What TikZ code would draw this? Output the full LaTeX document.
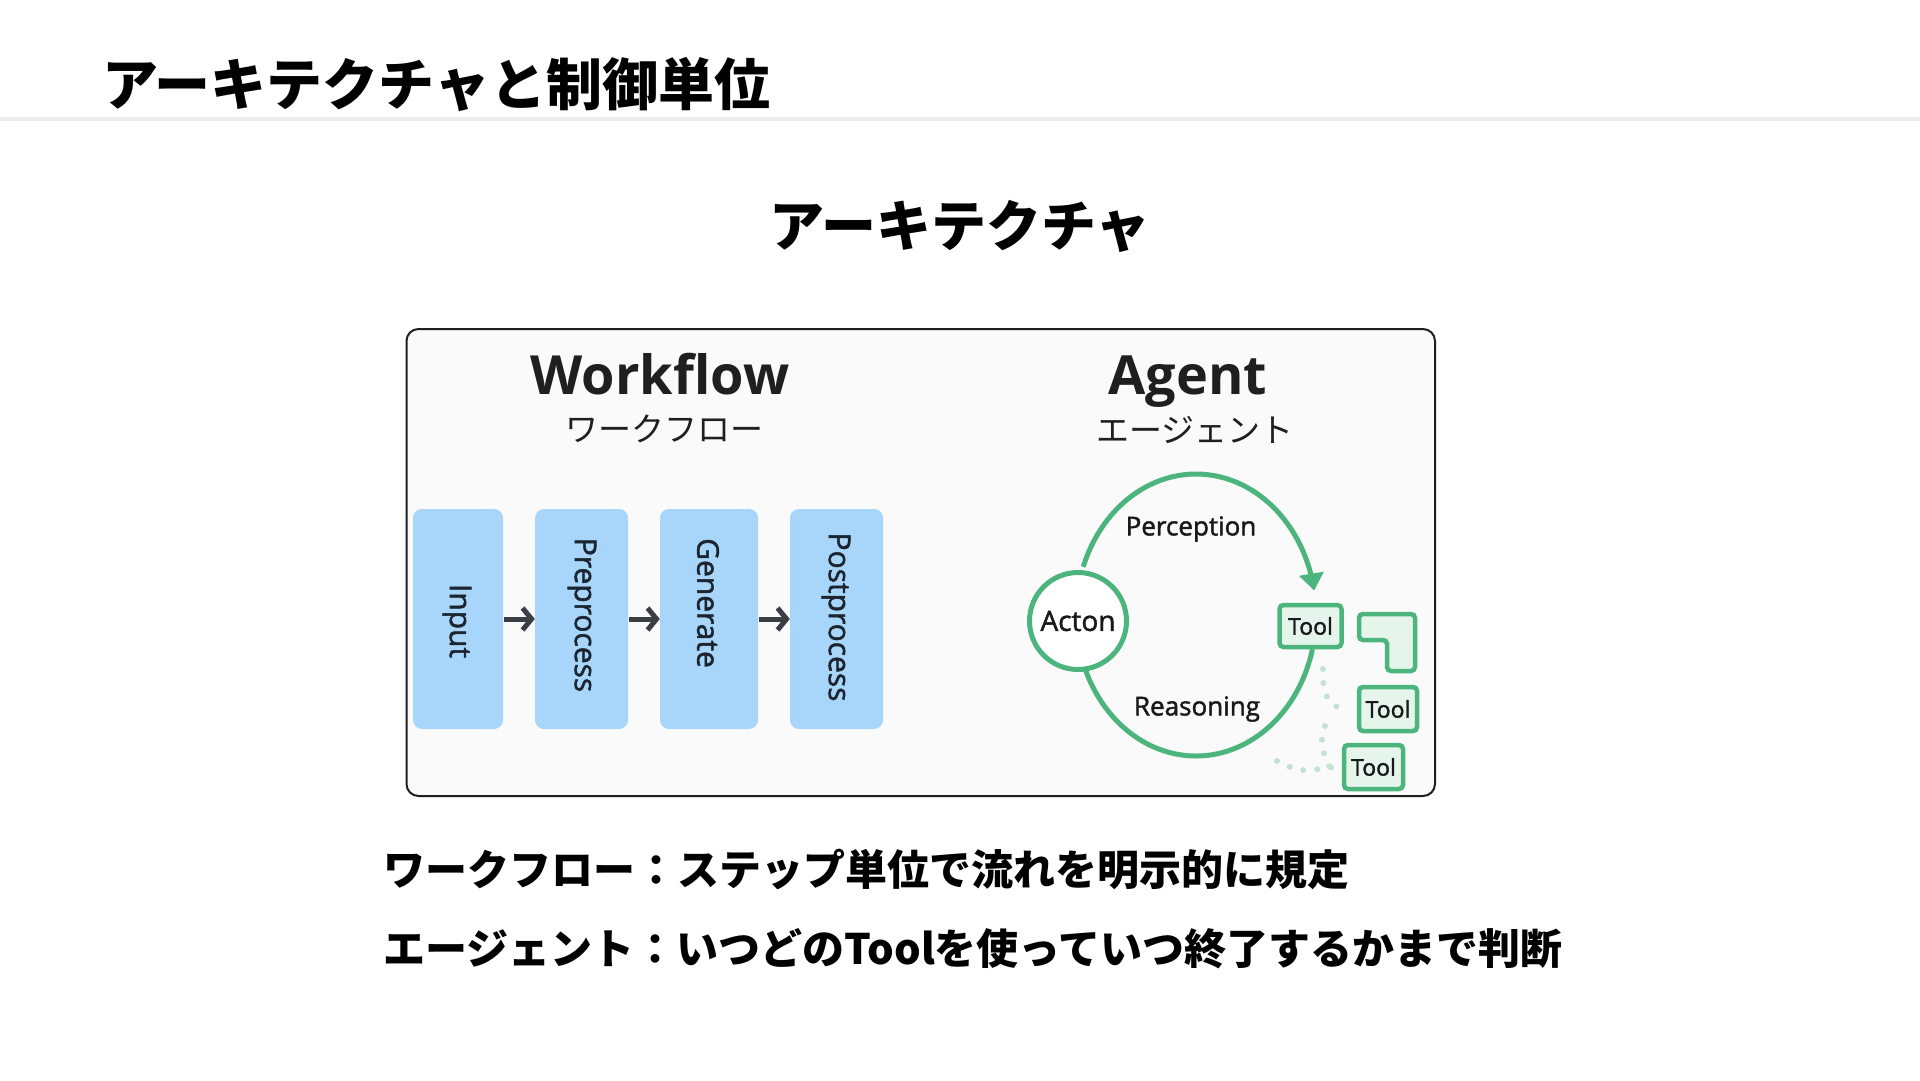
\documentclass[tikz,border=0pt]{standalone}
\usepackage{fontspec}
\setmainfont{Open Sans}
\newfontfamily\medfont{Open Sans}[FakeBold=1.6]
\newfontfamily\jp{Noto Sans CJK JP}
\usetikzlibrary{arrows.meta}
\definecolor{grn}{HTML}{4CB57D}
\definecolor{grnfill}{HTML}{E6F5EC}
\definecolor{grndot}{HTML}{C2E4CF}
\definecolor{blu}{HTML}{A8D6FA}
\definecolor{ink}{HTML}{1C2430}
\definecolor{arr}{HTML}{3B3F45}
\definecolor{framefill}{HTML}{FAFAFA}
\definecolor{divider}{HTML}{EDEDED}
\begin{document}
\begin{tikzpicture}[x=1pt,y=-1pt,
  frame/.style={draw=black!88, line width=2pt, fill=framefill, rounded corners=12pt, inner sep=0pt},
  wfbox/.style={fill=blu, rounded corners=9pt, minimum height=220pt, inner sep=0pt},
  wftext/.style={rotate=-90, text=ink, font=\medfont\fontsize{30}{30}\selectfont, inner sep=0pt},
  wfarrow/.style={draw=arr, line width=5pt, -{Straight Barb[length=9pt,width=22pt,line width=5pt]}, shorten <=1pt},
  ring/.style={draw=grn, line width=5pt},
  toolbox/.style={draw=grn, line width=4.5pt, fill=grnfill, rounded corners=4pt, inner sep=0pt, font=\medfont\fontsize{23}{23}\selectfont, text=black!90},
  dotline/.style={draw=grndot, line width=6pt, line cap=round, dash pattern=on 0pt off 14pt},
  lbl/.style={inner sep=0pt, text=black!90, font=\medfont\fontsize{26}{26}\selectfont},
]
\useasboundingbox (0,0) rectangle (1920,1080);
\fill[white] (0,0) rectangle (1920,1080);

% header
\node[anchor=west, inner sep=0pt, font=\jp\bfseries\fontsize{56}{60}\selectfont] (title) at (102,84) {アーキテクチャと制御単位};
\draw[divider, line width=4pt] (0,119) -- (1920,119);

\node[inner sep=0pt, font=\jp\bfseries\fontsize{55}{60}\selectfont] (subtitle) at (960,226) {アーキテクチャ};

% frame
\node[frame, minimum width=1028.5pt, minimum height=467pt] (frame) at (920.75,562.5) {};

% headings
\node[anchor=base, inner sep=0pt, text=black!88, font=\bfseries\fontsize{54}{60}\selectfont] (wfhead) at (660,394) {Workflow};
\node[inner sep=0pt, text=black!88, font=\jp\fontsize{33}{33}\selectfont] (wfjp) at (664,429) {ワークフロー};
\node[anchor=base, inner sep=0pt, text=black!88, font=\bfseries\fontsize{54}{60}\selectfont] (aghead) at (1188,394) {Agent};
\node[inner sep=0pt, text=black!88, font=\jp\fontsize{33}{33}\selectfont] (agjp) at (1195,430) {エージェント};

% workflow boxes
\node[wfbox, minimum width=90pt] (input) at (458,619) {};
\node[wfbox, minimum width=93pt] (prep) at (581.5,619) {};
\node[wfbox, minimum width=98pt] (gen) at (709,619) {};
\node[wfbox, minimum width=93pt] (post) at (836.5,619) {};
\node[wftext] (inputt) at (457,621) {Input};
\node[wftext] (prept) at (582,615) {Preprocess};
\node[wftext] (gent) at (708,603) {Generate};
\node[wftext] (postt) at (836,617) {Postprocess};
\draw[wfarrow] (input.east) -- (prep.west);
\draw[wfarrow] (prep.east) -- (gen.west);
\draw[wfarrow] (gen.east) -- (post.west);

% agent loop
\draw[ring, -{Triangle[length=17pt,width=24pt]}] plot[domain=0:150, samples=80] ({1196+120*cos(160-\x)},{615-141*sin(160-\x)});
\draw[ring] plot[domain=0:146, samples=80] ({1196+120*cos(200+\x)},{615-141*sin(200+\x)});

\node[circle, draw=grn, line width=5pt, fill=white, minimum size=97pt, inner sep=0pt, text=black!90, font=\medfont\fontsize{28}{28}\selectfont] (acton) at (1078,621) {Acton};
\node[lbl] (perc) at (1191,529) {Perception};
\node[lbl] (reas) at (1197,709) {Reasoning};

% tools
\node[toolbox, minimum width=62pt, minimum height=42pt] (tool1) at (1310.5,626) {Tool};
\draw[draw=grn, line width=4.5pt, fill=grnfill, rounded corners=4pt]
  (1359,614) -- (1415,614) -- (1415,671) -- (1387,671) -- (1387,640) -- (1359,640) -- cycle;
\node[toolbox, minimum width=58pt, minimum height=44pt] (tool2) at (1388,709) {Tool};
\node[toolbox, minimum width=59pt, minimum height=44pt] (tool3) at (1373.5,767) {Tool};

% dotted traces
\draw[dotline] (1323,669) .. controls (1322,700) and (1332,709) .. ([xshift=-8pt]tool2.west);
\draw[dotline] (1325,726) .. controls (1320,745) .. (1330,768);
\draw[dotline] (1277,761) .. controls (1300,772) .. ([xshift=-8pt]tool3.west);

% bottom text
\node[anchor=west, inner sep=0pt, font=\jp\bfseries\fontsize{42}{46}\selectfont] (line1) at (383,869) {ワークフロー：ステップ単位で流れを明示的に規定};
\node[anchor=west, inner sep=0pt, font=\jp\bfseries\fontsize{42}{46}\selectfont] (line2) at (383,949) {エージェント：いつどのToolを使っていつ終了するかまで判断};
\end{tikzpicture}
\end{document}
